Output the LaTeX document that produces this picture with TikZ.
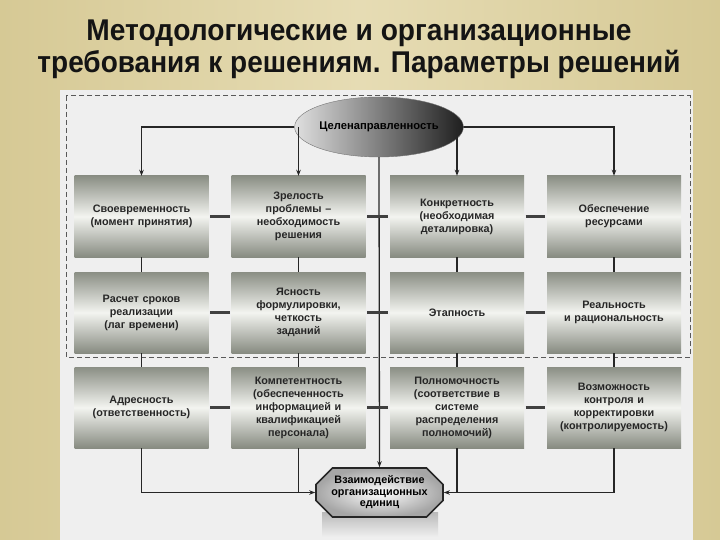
\documentclass[tikz,border=0pt]{standalone}
\usepackage{fontspec}
\setmainfont{Liberation Sans}
\usetikzlibrary{shapes.geometric,shapes.misc,arrows.meta}
\definecolor{bgbeige}{HTML}{D6C995}
\definecolor{bglight}{HTML}{E6DCB4}
\definecolor{panel}{HTML}{EFEFEF}
\definecolor{boxdark}{HTML}{8A8E84}
\definecolor{boxdarkb}{HTML}{878B81}
\definecolor{boxlight}{HTML}{F3F4F0}
\begin{document}
\begin{tikzpicture}[x=1pt,y=-1pt,
  conn/.style={draw=black!85,line width=1.3pt},
  arr/.style={conn,-{Stealth[length=6pt,width=4.5pt]}},
  barline/.style={draw=black!75,line width=2.6pt,shorten <=1.5pt,shorten >=1.5pt},
  pbox/.style={rectangle,minimum width=134pt,minimum height=81pt,inner sep=2pt,
    text width=130pt,align=center,
    font=\fontsize{10.8}{13}\selectfont\bfseries,text=black!85,
    top color=boxdark,bottom color=boxdarkb,middle color=boxlight},
  titlefont/.style={font=\fontsize{30}{32}\selectfont\bfseries,text=black!92}
]
\useasboundingbox (0,0) rectangle (720,540);
% background
\shade[left color=bgbeige,right color=bgbeige,middle color=bglight] (0,0) rectangle (720,540);
\fill[panel] (60,90) rectangle (693,540);
\draw[black!65,line width=1pt,dash pattern=on 5pt off 3pt] (66,96) rectangle (690,357);

% title
\node[titlefont,anchor=base,inner sep=0pt] (t1) at (359,41)
  {\resizebox{545pt}{\height}{Методологические и организационные}};
\node[titlefont,anchor=base,inner sep=0pt] (t2) at (359,73)
  {\resizebox{643pt}{\height}{требования к решениям. Параметры решений}};

% boxes
\node[pbox] (b11) at (141.5,216.5) {Своевременность\\(момент принятия)};
\node[pbox] (b12) at (298.5,216.5) {Зрелость\\проблемы –\\необходимость\\решения};
\node[pbox] (b13) at (457,216.5) {Конкретность\\(необходимая\\деталировка)};
\node[pbox] (b14) at (614,216.5) {Обеспечение\\ресурсами};
\node[pbox] (b21) at (141.5,312.5) {Расчет сроков\\реализации\\(лаг времени)};
\node[pbox] (b22) at (298.5,312.5) {Ясность\\формулировки,\\четкость\\заданий};
\node[pbox] (b23) at (457,312.5) {Этапность};
\node[pbox] (b24) at (614,312.5) {Реальность\\и рациональность};
\node[pbox] (b31) at (141.5,407.5) {Адресность\\(ответственность)};
\node[pbox] (b32) at (298.5,407.5) {Компетентность\\(обеспеченность\\информацией и\\квалификацией\\персонала)};
\node[pbox] (b33) at (457,407.5) {Полномочность\\(соответствие в\\системе\\распределения\\полномочий)};
\node[pbox] (b34) at (614,407.5) {Возможность\\контроля и\\корректировки\\(контролируемость)};

% shadow under bottom node
\shade[top color=gray!55,bottom color=panel] (322,512) rectangle (438,537);

% top ellipse
\node[ellipse,minimum width=144pt,minimum height=60pt,inner sep=0pt,
  draw=black!55,line width=0.4pt,
  left color=gray!25,middle color=gray!50,right color=black!88,
  font=\fontsize{11.2}{13}\selectfont\bfseries,text=black] (ell) at (379,127) {Целенаправленность};

% bottom chamfered node
\node[chamfered rectangle,chamfered rectangle xsep=13pt,minimum width=127pt,minimum height=49pt,
  inner sep=1pt,draw=black!85,line width=1.6pt,inner color=white,outer color=gray!70,
  align=center,font=\fontsize{10.8}{11.5}\selectfont\bfseries,text=black] (oct) at (379.5,492.5)
  {Взаимодействие\\организационных\\единиц};

% connectors from the ellipse
\draw[arr] (ell.west) -| (b11.north);
\draw[arr] (b12.north |- ell.west) -- (b12.north);
\draw[arr] (ell.east) -| (b14.north);
\draw[arr] (b13.north |- ell.east) -- (b13.north);
\draw[arr] (ell.south) -- (oct.north);

% vertical links between rows
\foreach \c in {1,2,3,4}{
  \draw[conn] (b1\c.south) -- (b2\c.north);
  \draw[conn] (b2\c.south) -- (b3\c.north);
}
% horizontal bars
\foreach \r in {1,2,3}{
  \draw[barline] (b\r1.east) -- (b\r2.west);
  \draw[barline] (b\r2.east) -- (b\r3.west);
  \draw[barline] (b\r3.east) -- (b\r4.west);
}
% to the bottom node
\draw[arr] (b31.south) |- (oct.west);
\draw[conn] (b32.south) -- (b32.south |- oct.west);
\draw[arr] (b34.south) |- (oct.east);
\draw[conn] (b33.south) -- (b33.south |- oct.east);
\end{tikzpicture}
\end{document}
